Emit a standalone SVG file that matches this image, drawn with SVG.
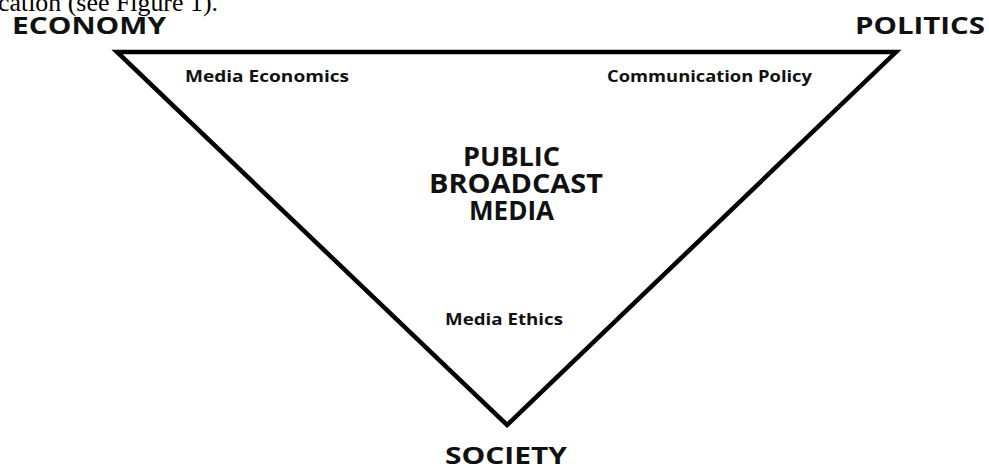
<svg xmlns="http://www.w3.org/2000/svg" width="989" height="467" viewBox="0 0 989 467">
<style>
.lbl{font-family:"Open Sans","Liberation Sans",sans-serif;font-weight:bold;fill:#111}
.big{font-size:23px}
.sm{font-size:16.5px}
.ctr{font-size:27px}
.cap{font-family:"Liberation Serif",serif;font-size:25px;fill:#000}
</style>
<rect width="989" height="467" fill="#fff"/>
<text class="cap" x="-2" y="11" textLength="220" lengthAdjust="spacingAndGlyphs">cation (see Figure 1).</text>
<g id="connectors">
<polygon points="117,52 896,52 507,425" fill="none" stroke="#000" stroke-width="4.5" stroke-linejoin="miter"/>
</g>
<g id="economy"><text class="lbl big" x="12" y="34" textLength="154" lengthAdjust="spacingAndGlyphs">ECONOMY</text></g>
<g id="politics"><text class="lbl big" x="855" y="34" textLength="130" lengthAdjust="spacingAndGlyphs">POLITICS</text></g>
<g id="society"><text class="lbl big" x="445" y="464" style="font-size:24px" textLength="122" lengthAdjust="spacingAndGlyphs">SOCIETY</text></g>
<g id="media-economics"><text class="lbl sm" x="185" y="82" textLength="164" lengthAdjust="spacingAndGlyphs">Media Economics</text></g>
<g id="communication-policy"><text class="lbl sm" x="607" y="82" textLength="205" lengthAdjust="spacingAndGlyphs">Communication Policy</text></g>
<g id="media-ethics"><text class="lbl sm" x="445" y="325" textLength="118" lengthAdjust="spacingAndGlyphs">Media Ethics</text></g>
<g id="public-broadcast-media">
<text class="lbl ctr" x="463" y="166" textLength="97" lengthAdjust="spacingAndGlyphs">PUBLIC</text>
<text class="lbl ctr" x="429" y="193" textLength="174" lengthAdjust="spacingAndGlyphs">BROADCAST</text>
<text class="lbl ctr" x="469" y="220" textLength="85" lengthAdjust="spacingAndGlyphs">MEDIA</text>
</g>
</svg>
